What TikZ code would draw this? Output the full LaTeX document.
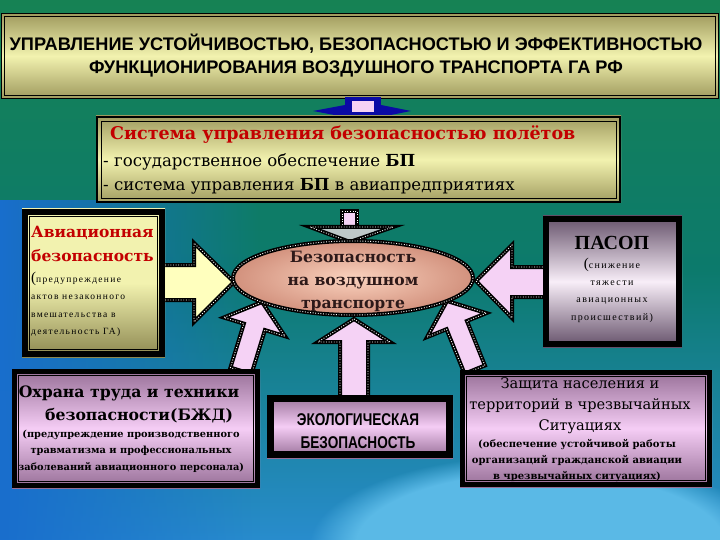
\documentclass[tikz,border=0pt]{standalone}
\usepackage{fontspec}
\setmainfont{DejaVu Serif}
\newfontfamily\libser{Liberation Serif}
\newfontfamily\sansf{Liberation Sans}
\newfontfamily\narrowf[FakeStretch=0.8]{Liberation Sans}
\newfontfamily\spacedf[LetterSpace=14]{Liberation Serif}
\usetikzlibrary{fadings}
\definecolor{bgtop}{RGB}{22,130,84}
\definecolor{bgmid}{RGB}{12,122,108}
\definecolor{bgbot}{RGB}{40,140,205}
\definecolor{bgblue}{RGB}{25,110,205}
\definecolor{bglight}{RGB}{90,185,230}
\definecolor{khD}{RGB}{160,155,95}
\definecolor{khL}{RGB}{242,242,175}
\definecolor{khB}{RGB}{140,135,80}
\definecolor{pkD}{RGB}{150,110,150}
\definecolor{pkL}{RGB}{245,205,245}
\definecolor{gvD}{RGB}{100,80,105}
\definecolor{gvL}{RGB}{248,238,248}
\definecolor{redt}{RGB}{195,0,0}
\definecolor{pink}{RGB}{245,210,245}
\definecolor{paleyel}{RGB}{255,255,190}
\definecolor{salL}{RGB}{250,210,190}
\definecolor{salD}{RGB}{210,145,125}
\definecolor{navy}{RGB}{10,10,165}
\definecolor{headgray}{RGB}{190,200,200}
\definecolor{dtext}{RGB}{45,25,25}
\newcommand\blkarrow[2]{%
  \filldraw[fill=#1, draw=black, line width=4pt, line join=miter] #2;
  \draw[white, line width=0.9pt, dash pattern=on 0.9pt off 1.7pt] #2;}
\begin{document}
\begin{tikzpicture}[x=1pt,y=-1pt,
  txt/.style={inner sep=0pt, align=center},
  frame/.style={draw=black, line width=6pt},
  vgrad/.style n args={2}{top color=#1, bottom color=#1, middle color=#2}]
\useasboundingbox (0,0) rectangle (720,540);
% background
\shade[top color=bgtop, bottom color=bgbot, middle color=bgmid] (0,0) rectangle (720,540);
\fill[bgblue, path fading=east] (0,200) rectangle (260,540);
\fill[bglight, path fading=circle with fuzzy edge 20 percent] (540,545) ellipse (230 and 90);
% title box
\shade[vgrad={khD}{khL}] (2,14) rectangle (718,98);
\draw[black, line width=1.4pt] (1.5,13.5) rectangle (718.5,98.5);
\draw[black, line width=0.8pt] (4.5,16.5) rectangle (715.5,95.5);
\node[txt, font=\sansf\bfseries\fontsize{18.2}{23}\selectfont] (title) at (356,56)
  {УПРАВЛЕНИЕ УСТОЙЧИВОСТЬЮ, БЕЗОПАСНОСТЬЮ И ЭФФЕКТИВНОСТЬЮ\\ФУНКЦИОНИРОВАНИЯ ВОЗДУШНОГО ТРАНСПОРТА ГА РФ};
% blue arrow under title
\fill[navy] (313,111) -- (345,105) -- (381,105) -- (411,111) -- (381,117) -- (345,117) -- cycle;
\fill[navy] (345,97) rectangle (381,115);
\fill[pink] (352,101) rectangle (374,112);
% system box
\shade[vgrad={khD}{khL}] (96,116) rectangle (621,203);
\draw[black, line width=2pt] (97,117) rectangle (620,202);
\draw[black, line width=0.8pt] (101,121) rectangle (616,198);
\node[txt, anchor=west, text=redt, font=\bfseries\fontsize{17.5}{24}\selectfont] (sys) at (110,135) {Система управления безопасностью полётов};
\node[txt, anchor=west, font=\fontsize{16.6}{18}\selectfont] (sys1) at (103,162) {- государственное обеспечение \textbf{БП}};
\node[txt, anchor=west, font=\fontsize{16.6}{18}\selectfont] (sys2) at (103,186) {- система управления \textbf{БП} в авиапредприятиях};
% top center arrow
\blkarrow{pink}{(342,211) rectangle (357,229)}
\blkarrow{headgray}{(310,227) -- (393,227) -- (350,242) -- cycle}
% left arrow
\blkarrow{paleyel}{(160,265) -- (194,265) -- (194,243) -- (234,282) -- (194,322) -- (194,300) -- (160,300) -- cycle}
% right arrow
\blkarrow{pink}{(548,267) -- (512,267) -- (512,245) -- (476,281) -- (512,318) -- (512,297) -- (548,297) -- cycle}
% diagonal arrows
\begin{scope}[shift={(262,302)}, rotate=-17]
  \blkarrow{pink}{(0,0) -- (32,26) -- (11,26) -- (11,72) -- (-11,72) -- (-11,26) -- (-32,26) -- cycle}
\end{scope}
\begin{scope}[shift={(447,301)}, rotate=22]
  \blkarrow{pink}{(0,0) -- (32,26) -- (11,26) -- (11,74) -- (-11,74) -- (-11,26) -- (-32,26) -- cycle}
\end{scope}
% bottom center arrow
\blkarrow{pink}{(354,319) -- (390,342) -- (368,342) -- (368,397) -- (340,397) -- (340,342) -- (318,342) -- cycle}
% ellipse
\shade[inner color=salL, outer color=salD] (353,278) ellipse (120 and 37);
\draw[black, line width=4pt] (353,278) ellipse (120 and 37);
\draw[white, line width=0.9pt, dash pattern=on 0.9pt off 1.7pt] (353,278) ellipse (120 and 37);
\node[txt, text=dtext, font=\bfseries\fontsize{15.6}{23}\selectfont] (safe) at (353,281) {Безопасность\\на воздушном\\транспорте};
% left box
\shade[top color=khL, bottom color=khB, middle color=khL] (22,209) rectangle (165,357);
\draw[frame] (25,212) rectangle (162,354);
\draw[black, line width=0.6pt] (29.5,216.5) rectangle (157.5,349.5);
\node[txt, anchor=west, text=redt, font=\bfseries\fontsize{15.5}{24}\selectfont, align=left] (avia) at (31,244) {Авиационная\\безопасность};
\node[txt, anchor=north west, font=\spacedf\fontsize{9.5}{17.3}\selectfont, align=left] (avia2) at (31,272) {{\fontsize{15}{15}\selectfont(}предупреждение\\актов незаконного\\вмешательства в\\деятельность ГА)};
% right box
\shade[vgrad={gvD}{gvL}] (543,216) rectangle (682,347);
\draw[frame] (546,219) rectangle (679,344);
\node[txt, font=\libser\bfseries\fontsize{20}{22}\selectfont] (pasop) at (612,243) {ПАСОП};
\node[txt, font=\spacedf\fontsize{10}{17.3}\selectfont] (pasop2) at (612,290) {{\fontsize{15}{15}\selectfont(}снижение\\тяжести\\авиационных\\происшествий)};
% bottom left box
\shade[vgrad={pkD}{pkL}] (12,369) rectangle (260,488);
\draw[black, line width=5pt] (14.5,371.5) rectangle (257.5,485.5);
\draw[black, line width=0.6pt] (18.5,375.5) rectangle (253.5,481.5);
\node[txt, font=\bfseries\fontsize{15.7}{23}\selectfont] (ohr) at (129,404) {Охрана труда и техники\\\hspace*{20pt}безопасности(БЖД)};
\node[txt, font=\bfseries\fontsize{9.8}{16.3}\selectfont] (ohr2) at (131,451) {(предупреждение производственного\\травматизма и профессиональных\\заболеваний авиационного персонала)};
% eco box
\shade[vgrad={pkD}{pkL}] (267,395) rectangle (453,458);
\draw[black, line width=7pt] (270.5,398.5) rectangle (449.5,454.5);
\node[txt, font=\narrowf\bfseries\fontsize{17}{23}\selectfont] (eco) at (358,431) {ЭКОЛОГИЧЕСКАЯ\\БЕЗОПАСНОСТЬ};
% bottom right box
\shade[vgrad={pkD}{pkL}] (460,370) rectangle (712,487);
\draw[black, line width=5pt] (462.5,372.5) rectangle (709.5,484.5);
\draw[black, line width=0.6pt] (466.5,376.5) rectangle (705.5,480.5);
\node[txt, font=\fontsize{14.6}{21}\selectfont] (zash) at (580,406) {Защита населения и\\территорий в чрезвычайных\\Ситуациях};
\node[txt, font=\bfseries\fontsize{10}{16}\selectfont] (zash2) at (577,461) {(обеспечение устойчивой работы\\организаций гражданской авиации\\в чрезвычайных ситуациях)};
\end{tikzpicture}
\end{document}
